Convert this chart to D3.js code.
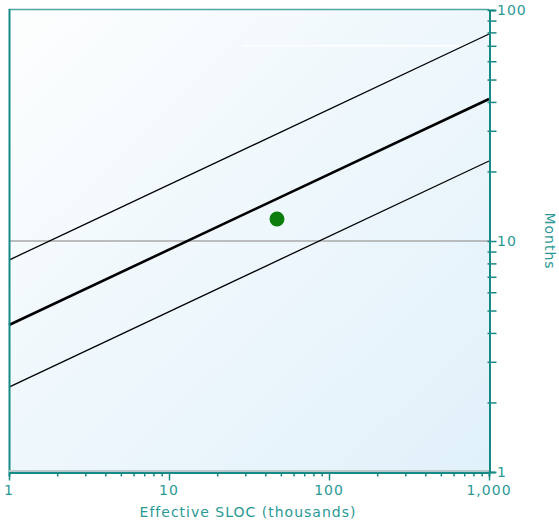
<!DOCTYPE html>
<html>
<head>
<meta charset="utf-8">
<script src="https://cdn.jsdelivr.net/npm/d3@7"></script>
<style>
  html, body { margin: 0; padding: 0; background: #ffffff; }
  svg { display: block; }
  text { font-family: "DejaVu Sans", Verdana, sans-serif; }
</style>
</head>
<body>
<svg id="chart" width="559" height="524"></svg>
<script>
// Effective size (thousands of SLOC) at the ends of the trend lines
const sizeEnds = [1, 1000];
// Schedule trend (months): average, upper and lower bands
const trendAvg = [4.33, 41.2];
const trendUpper = [8.27, 78.7];
const trendLower = [2.33, 22.2];
// The project being compared against the trend
const projectSize = [47.3];
const projectMonths = [12.45];
// Axis ticks
const xTickValues = [1, 10, 100, 1000];
const xTickLabels = ["1", "10", "100", "1,000"];
const yTickValues = [1, 10, 100];
const yTickLabels = ["1", "10", "100"];
const refMonths = 10;
const highlightMonths = 70;
const highlightSpan = [28.6, 760];

const svg = d3.select("#chart");
const plotL = 9, plotR = 489, plotT = 10, plotB = 472;
const teal = "#168a86";
const textTeal = "#2a9995";

const x = d3.scaleLog().domain([1, 1000]).range([plotL, plotR]);
const y = d3.scaleLog().domain([1, 100]).range([plotB, plotT]);

// Plot background
const defs = svg.append("defs");
const grad = defs.append("linearGradient").attr("id", "bg")
  .attr("x1", "0").attr("y1", "0").attr("x2", "1").attr("y2", "1");
grad.append("stop").attr("offset", "0%").attr("stop-color", "#fdfefe");
grad.append("stop").attr("offset", "50%").attr("stop-color", "#eef7fc");
grad.append("stop").attr("offset", "100%").attr("stop-color", "#e1f1fa");

svg.append("rect")
  .attr("x", plotL).attr("y", plotT)
  .attr("width", plotR - plotL).attr("height", plotB - plotT)
  .attr("fill", "url(#bg)");

// Faint highlight line near the top
svg.append("line")
  .attr("x1", x(highlightSpan[0])).attr("x2", x(highlightSpan[1]))
  .attr("y1", y(highlightMonths)).attr("y2", y(highlightMonths))
  .attr("stroke", "#ffffff").attr("stroke-width", 1.5);

// Reference line at 10 months
svg.append("line")
  .attr("x1", plotL).attr("x2", plotR)
  .attr("y1", y(refMonths)).attr("y2", y(refMonths))
  .attr("stroke", "#a8a8a8").attr("stroke-width", 1.5);

// Trend lines
const line = d3.line().x(d => x(d[0])).y(d => y(d[1]));
function drawTrend(vals, w) {
  svg.append("path")
    .attr("d", line(sizeEnds.map((s, i) => [s, vals[i]])))
    .attr("fill", "none").attr("stroke", "#000").attr("stroke-width", w);
}
drawTrend(trendUpper, 1.3);
drawTrend(trendLower, 1.3);
drawTrend(trendAvg, 2.6);

// Project point
svg.selectAll("circle.proj").data(projectSize).join("circle")
  .attr("class", "proj")
  .attr("cx", d => x(d)).attr("cy", (d, i) => y(projectMonths[i]))
  .attr("r", 7.5).attr("fill", "#0a7d0a");

// Frame: top and left edges
svg.append("line").attr("x1", plotL).attr("x2", plotR)
  .attr("y1", plotT - 0.5).attr("y2", plotT - 0.5)
  .attr("stroke", "#4fa6a3").attr("stroke-width", 1.5);
svg.append("line").attr("x1", plotL + 0.5).attr("x2", plotL + 0.5)
  .attr("y1", plotT - 1).attr("y2", plotB)
  .attr("stroke", teal).attr("stroke-width", 2);

// Shadow above the bottom axis
svg.append("line").attr("x1", plotL).attr("x2", plotR)
  .attr("y1", plotB - 1).attr("y2", plotB - 1)
  .attr("stroke", "#b9c7ca").attr("stroke-width", 2);

// Bottom axis
const xAxis = d3.axisBottom(x)
  .tickValues(d3.range(0, 3).flatMap(e => d3.range(1, 10).map(m => m * Math.pow(10, e))).concat([1000]))
  .tickSize(4).tickFormat("");
const gx = svg.append("g").attr("transform", `translate(0,${plotB + 0.5})`).call(xAxis);
gx.select(".domain").attr("stroke", teal).attr("stroke-width", 2);
gx.selectAll(".tick line").attr("stroke", teal).attr("stroke-width", 1.5)
  .attr("y2", d => xTickValues.includes(d) ? 8 : 4);

svg.selectAll("text.xlab").data(xTickValues).join("text")
  .attr("class", "xlab")
  .attr("x", d => x(d)).attr("y", 495)
  .attr("text-anchor", "middle")
  .attr("font-size", 14).attr("letter-spacing", 1)
  .attr("fill", textTeal)
  .text((d, i) => xTickLabels[i]);

svg.append("text")
  .attr("x", 248).attr("y", 517)
  .attr("text-anchor", "middle")
  .attr("font-size", 14).attr("letter-spacing", 1)
  .attr("fill", textTeal)
  .text("Effective SLOC (thousands)");

// Right axis
const yAxis = d3.axisRight(y)
  .tickValues(d3.range(0, 2).flatMap(e => d3.range(1, 10).map(m => m * Math.pow(10, e))).concat([100]))
  .tickSize(6).tickFormat("");
const gy = svg.append("g").attr("transform", `translate(${plotR + 0.5},0)`).call(yAxis);
gy.select(".domain").attr("stroke", teal).attr("stroke-width", 2);
gy.selectAll(".tick line").attr("stroke", teal).attr("stroke-width", 1.5)
  .attr("x1", -2).attr("x2", 7);

svg.selectAll("text.ylab").data(yTickValues).join("text")
  .attr("class", "ylab")
  .attr("x", 497).attr("y", d => y(d))
  .attr("dominant-baseline", "central")
  .attr("font-size", 14).attr("letter-spacing", 1)
  .attr("fill", textTeal)
  .text((d, i) => yTickLabels[i]);

svg.append("text")
  .attr("transform", `translate(545,241) rotate(90)`)
  .attr("text-anchor", "middle")
  .attr("font-size", 14).attr("letter-spacing", 1)
  .attr("fill", textTeal)
  .text("Months");
</script>
</body>
</html>
